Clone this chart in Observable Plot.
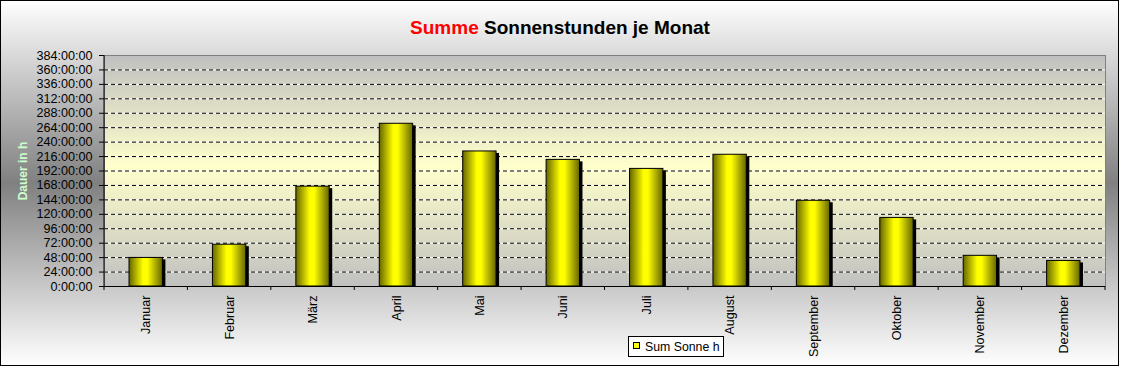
<!DOCTYPE html>
<html><head><meta charset="utf-8">
<script src="https://cdn.jsdelivr.net/npm/d3@7"></script>
<script src="https://cdn.jsdelivr.net/npm/@observablehq/plot@0.6"></script>
<style>
body{margin:0;background:#fff}
#chart{position:relative;width:1121px;height:367px}
</style>
</head><body><div id="chart"></div>
<script>
// ---- data ----
const months = ["Januar","Februar","März","April","Mai","Juni","Juli","August","September","Oktober","November","Dezember"];
const hours = [47.5, 69.5, 166, 270.5, 224.5, 210.5, 195.5, 219, 142.5, 114, 51, 42.5];
const yTicks = d3.range(0, 385, 24);
const gridValues = d3.range(24, 361, 24);
const titleRed = "Summe";
const titleRest = " Sonnenstunden je Monat";
const yLabel = "Dauer in h";
const seriesName = "Sum Sonne h";

const data = months.map((m, i) => ({month: m, hours: hours[i]}));
const W = 1121, H = 367;
const FONT = "Arial, 'Liberation Sans', sans-serif";

const plot = Plot.plot({
  width: W, height: H,
  marginLeft: 104, marginRight: 16, marginTop: 55, marginBottom: 81,
  style: {fontFamily: FONT, fontSize: "12.6px", background: "transparent", color: "#000", overflow: "visible"},
  x: {domain: months, paddingInner: 0.6, paddingOuter: 0.3, round: false, label: null},
  y: {domain: [0, 384], ticks: yTicks, label: null},
  marks: [
    Plot.frame({fill: "url(#plotBg)", stroke: "#808080"}),
    Plot.ruleY(gridValues, {stroke: "#fff"}),
    Plot.ruleY(gridValues, {stroke: "#000", strokeDasharray: "4,3"}),
    Plot.barY(data, {x: "month", y: "hours", fill: "#000", dx: 3, dy: 2, clip: true}),
    Plot.barY(data, {x: "month", y: "hours", fill: "url(#barGrad)", stroke: "#000", strokeWidth: 1}),
    Plot.ruleY([0], {stroke: "#000"}),
    Plot.axisY({ticks: yTicks, tickSize: 5, tickPadding: 7, tickFormat: d => `${d}:00:00`, label: null}),
    Plot.axisX({tickSize: 0, tickRotate: -90, tickPadding: 9, label: null})
  ]
});

const svg = d3.select(plot);
const defs = svg.insert("defs", ":first-child");
const og = defs.append("linearGradient").attr("id", "outerBg").attr("x1", 0).attr("y1", 0).attr("x2", 0).attr("y2", 1);
og.append("stop").attr("offset", "0%").attr("stop-color", "#ffffff");
og.append("stop").attr("offset", "50%").attr("stop-color", "#808080");
og.append("stop").attr("offset", "100%").attr("stop-color", "#ffffff");
const pg = defs.append("linearGradient").attr("id", "plotBg").attr("x1", 0).attr("y1", 0).attr("x2", 0).attr("y2", 1);
pg.append("stop").attr("offset", "0%").attr("stop-color", "#c0c0c0");
pg.append("stop").attr("offset", "48%").attr("stop-color", "#ffffcc");
pg.append("stop").attr("offset", "100%").attr("stop-color", "#c0c0c0");
const bg = defs.append("linearGradient").attr("id", "barGrad").attr("x1", 0).attr("y1", 0).attr("x2", 1).attr("y2", 0);
bg.append("stop").attr("offset", "0%").attr("stop-color", "#666600");
bg.append("stop").attr("offset", "42%").attr("stop-color", "#ffff00");
bg.append("stop").attr("offset", "55%").attr("stop-color", "#ffff00");
bg.append("stop").attr("offset", "100%").attr("stop-color", "#666600");

// outer background + border
svg.insert("rect", "defs + *")
  .attr("x", 0.5).attr("y", 0.5).attr("width", 1118).attr("height", 365)
  .attr("fill", "url(#outerBg)").attr("stroke", "#000");

const xs = plot.scale("x"), ys = plot.scale("y");
const bw = xs.bandwidth;
const step = xs.step ?? bw / (1 - xs.paddingInner);
const y0 = ys.apply(0), yTop = ys.apply(384);
const bounds = months.map(m => xs.apply(m) - (step - bw) / 2);
bounds.push(xs.apply(months[months.length - 1]) + bw + (step - bw) / 2);

// left axis line + category boundary ticks
svg.append("line").attr("x1", bounds[0]).attr("x2", bounds[0]).attr("y1", yTop).attr("y2", y0).attr("stroke", "#000");
svg.append("g").selectAll("line").data(bounds).join("line")
  .attr("x1", d => d).attr("x2", d => d).attr("y1", y0).attr("y2", y0 + 4).attr("stroke", "#000");

// title
const t = svg.append("text").attr("x", 560).attr("y", 34).attr("text-anchor", "middle")
  .attr("font-family", FONT).attr("font-weight", "bold").attr("font-size", "19px");
t.append("tspan").attr("fill", "#ff0000").text(titleRed);
t.append("tspan").attr("fill", "#000").text(titleRest);

// y label
svg.append("text").attr("transform", "translate(23,171) rotate(-90)").attr("text-anchor", "middle")
  .attr("dominant-baseline", "central").attr("font-family", FONT).attr("font-weight", "bold")
  .attr("font-size", "12px").attr("fill", "#ccffcc").text(yLabel);

// legend
const lg = svg.append("g");
lg.append("rect").attr("x", 628.5).attr("y", 336.5).attr("width", 95).attr("height", 20).attr("fill", "#fff").attr("stroke", "#000");
lg.append("rect").attr("x", 633.5).attr("y", 342.5).attr("width", 6).attr("height", 6).attr("fill", "#ffff00").attr("stroke", "#000");
lg.append("text").attr("x", 645).attr("y", 351).attr("text-anchor", "start").attr("font-family", FONT).attr("font-size", "12.3px").attr("fill", "#000").text(seriesName);

document.getElementById("chart").appendChild(plot);
</script>
</body></html>
